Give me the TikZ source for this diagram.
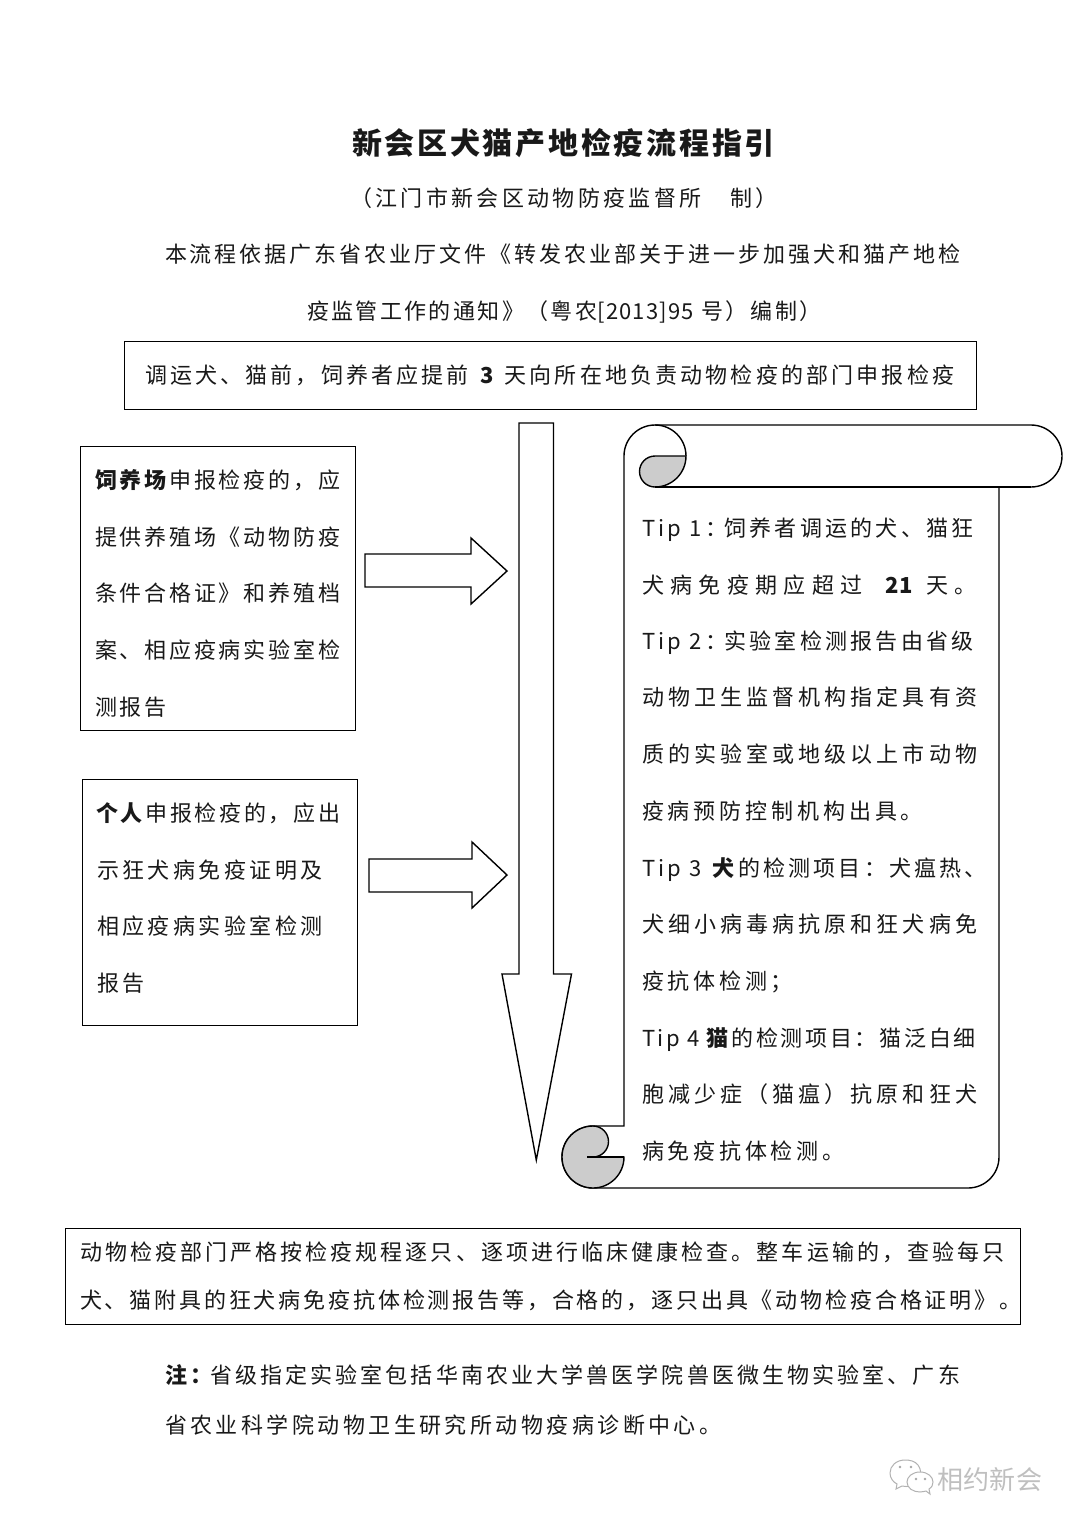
\documentclass[tikz,border=0pt]{standalone}
\usepackage{fontspec}
\setmainfont{Noto Sans CJK SC}
\newcommand{\spcfont}[2]{%
  \fontsize{#1}{#1}\selectfont
  \pgfmathsetmacro{\lsv}{(#2/#1-1)*100}%
  \edef\lsdo{\noexpand\addfontfeature{LetterSpace=\lsv}}\lsdo}
\newcommand{\txtline}[6][22]{\node[txtl] (#2) at (#3,#4) {\spcfont{#1}{#5}#6};}
\tikzset{
  txtl/.style={anchor=base west,inner sep=0pt,outer sep=0pt,text=black!90},
  boxl/.style={draw=black,line width=1.3pt,fill=none,anchor=north west,inner sep=0pt},
  shp/.style={draw=black,line width=1.4pt,line join=miter,fill=white},
  linel/.style={draw=black,line width=1.4pt},
  rollg/.style={draw=black,line width=1.4pt,fill=black!20},
  wm/.style={draw=black!30,line width=1pt,fill=white}
}
\begin{document}
\begin{tikzpicture}[x=1pt,y=-1pt]
\useasboundingbox (0,0) rectangle (1080,1527);
\fill[white] (0,0) rectangle (1080,1527);
% header
\txtline[30]{title}{352}{154}{32.75}{\bfseries 新会区犬猫产地检疫流程指引}
\txtline{sub}{350}{206}{25.35}{（江门市新会区动物防疫监督所　制）}
\txtline{intro1}{165}{262}{24.95}{本流程依据广东省农业厅文件《转发农业部关于进一步加强犬和猫产地检}
\txtline{intro2}{307}{319}{24.4}{疫监管工作的通知》（粤农{\spcfont{22}{23.2}[2013]95} 号）\hspace{3pt}编制）}
% top box
\node[boxl,minimum width=852pt,minimum height=68pt] (topbox) at (124,341) {};
\txtline{top}{145}{383}{25.15}{调运犬、猫前，饲养者应提前 \textbf{3} 天向所在地负责动物检疫的部门申报检疫}
% left boxes
\node[boxl,minimum width=275pt,minimum height=284pt] (farm) at (80,446) {};
\txtline{f1}{95}{488}{24.8}{\textbf{饲养场}申报检疫的，应}
\txtline{f2}{95}{545}{24.8}{提供养殖场《动物防疫}
\txtline{f3}{95}{601}{24.8}{条件合格证》和养殖档}
\txtline{f4}{95}{658}{24.8}{案、相应疫病实验室检}
\txtline{f5}{95}{715}{24.8}{测报告}
\node[boxl,minimum width=275pt,minimum height=246pt] (person) at (82,779) {};
\txtline{p1}{96}{821}{24.7}{\textbf{个人}申报检疫的，应出}
\txtline{p2}{97}{878}{25.45}{示狂犬病免疫证明及}
\txtline{p3}{97}{934}{25.45}{相应疫病实验室检测}
\txtline{p4}{97}{991}{25.45}{报告}
% block arrows
\draw[shp] (365,554) -- (471,554) -- (471,538) -- (507,571) -- (471,604) -- (471,587) -- (365,587) -- cycle;
\draw[shp] (369,859) -- (472,859) -- (472,842) -- (507,875) -- (472,908) -- (472,892) -- (369,892) -- cycle;
\draw[shp] (519,423) -- (553.5,423) -- (553.5,974) -- (571.5,974) -- (536.3,1160) -- (502,974) -- (519,974) -- cycle;
% scroll body
\draw[shp] (624,456) arc[start angle=180,end angle=270,radius=31]
  -- (1031,425) arc[start angle=-90,end angle=90,radius=31]
  -- (999,487) -- (999,1157) arc[start angle=0,end angle=90,radius=31]
  -- (593,1188) arc[start angle=90,end angle=270,radius=31]
  -- (624,1126) -- cycle;
% top roll
\draw[linel] (655,425) arc[start angle=-90,end angle=0,radius=31];
\draw[rollg] (655,456) -- (686,456) arc[start angle=0,end angle=90,radius=31]
  arc[start angle=90,end angle=270,radius=15.5] -- cycle;
\draw[linel] (655,487) -- (1031,487);
% bottom roll
\draw[rollg] (624,1157) arc[start angle=0,end angle=270,radius=31]
  arc[start angle=-90,end angle=90,radius=15.5] -- cycle;
\draw[linel] (587,1157) -- (624,1157);
% tips
\txtline{t1}{642}{536}{25.3}{Tip 1：\hspace{-3pt}饲养者调运的犬、猫狂}
\txtline{t2}{642}{593}{28.4}{犬病免疫期应超过\hspace{23pt}{\bfseries\spcfont{22}{22.8}21}\hspace{13pt}天。}
\txtline{t3}{642}{649}{25.3}{Tip 2：\hspace{-3pt}实验室检测报告由省级}
\txtline{t4}{642}{705}{26.1}{动物卫生监督机构指定具有资}
\txtline{t5}{642}{762}{26.1}{质的实验室或地级以上市动物}
\txtline{t6}{642}{819}{25.9}{疫病预防控制机构出具。}
\txtline{t7}{642}{876}{25.2}{Tip 3 \textbf{犬}的检测项目：犬瘟热、}
\txtline{t8}{642}{932}{26.1}{犬细小病毒病抗原和狂犬病免}
\txtline{t9}{642}{989}{25.8}{疫抗体检测；}
\txtline{t10}{642}{1046}{24.7}{Tip 4\hspace{4pt}\textbf{猫}的检测项目：猫泛白细}
\txtline{t11}{642}{1102}{26.1}{胞减少症（猫瘟）抗原和狂犬}
\txtline{t12}{642}{1159}{25.8}{病免疫抗体检测。}
% bottom box
\node[boxl,minimum width=955pt,minimum height=96pt] (check) at (65,1228) {};
\txtline{c1}{80}{1260}{25.07}{动物检疫部门严格按检疫规程逐只、逐项进行临床健康检查。整车运输的，查验每只}
\txtline{c2}{80}{1308}{24.85}{犬、猫附具的狂犬病免疫抗体检测报告等，合格的，逐只出具《动物检疫合格证明》。}
% note
\txtline{n1}{165}{1383}{25.1}{\textbf{注：}\hspace{-5pt}省级指定实验室包括华南农业大学兽医学院兽医微生物实验室、广东}
\txtline{n2}{165}{1433}{25.45}{省农业科学院动物卫生研究所动物疫病诊断中心。}
% watermark
\draw[wm] (905,1460) .. controls (896,1460) and (890,1466) .. (890,1473) .. controls (890,1478) and (893,1482) .. (897,1484) -- (896,1489) -- (902,1486) .. controls (907,1487) and (914,1487) .. (920,1482) .. controls (922,1478) and (921,1468) .. (918,1465) .. controls (915,1461) and (910,1460) .. (905,1460) -- cycle;
\draw[wm] (920,1472) .. controls (912,1472) and (907,1477) .. (907,1482) .. controls (907,1488) and (913,1492) .. (920,1492) .. controls (923,1492) and (925,1491) .. (926,1491) -- (930,1494) -- (929,1489) .. controls (932,1487) and (933,1485) .. (933,1482) .. controls (933,1477) and (928,1472) .. (920,1472) -- cycle;
\fill[black!35] (900,1467) circle[radius=1.3] (911,1467) circle[radius=1.3] (916,1479) circle[radius=1.3] (925,1479) circle[radius=1.3];
\node[txtl,text=black!25] (wmtext) at (937,1489) {\spcfont{26}{26.5}相约新会};
\end{tikzpicture}
\end{document}
